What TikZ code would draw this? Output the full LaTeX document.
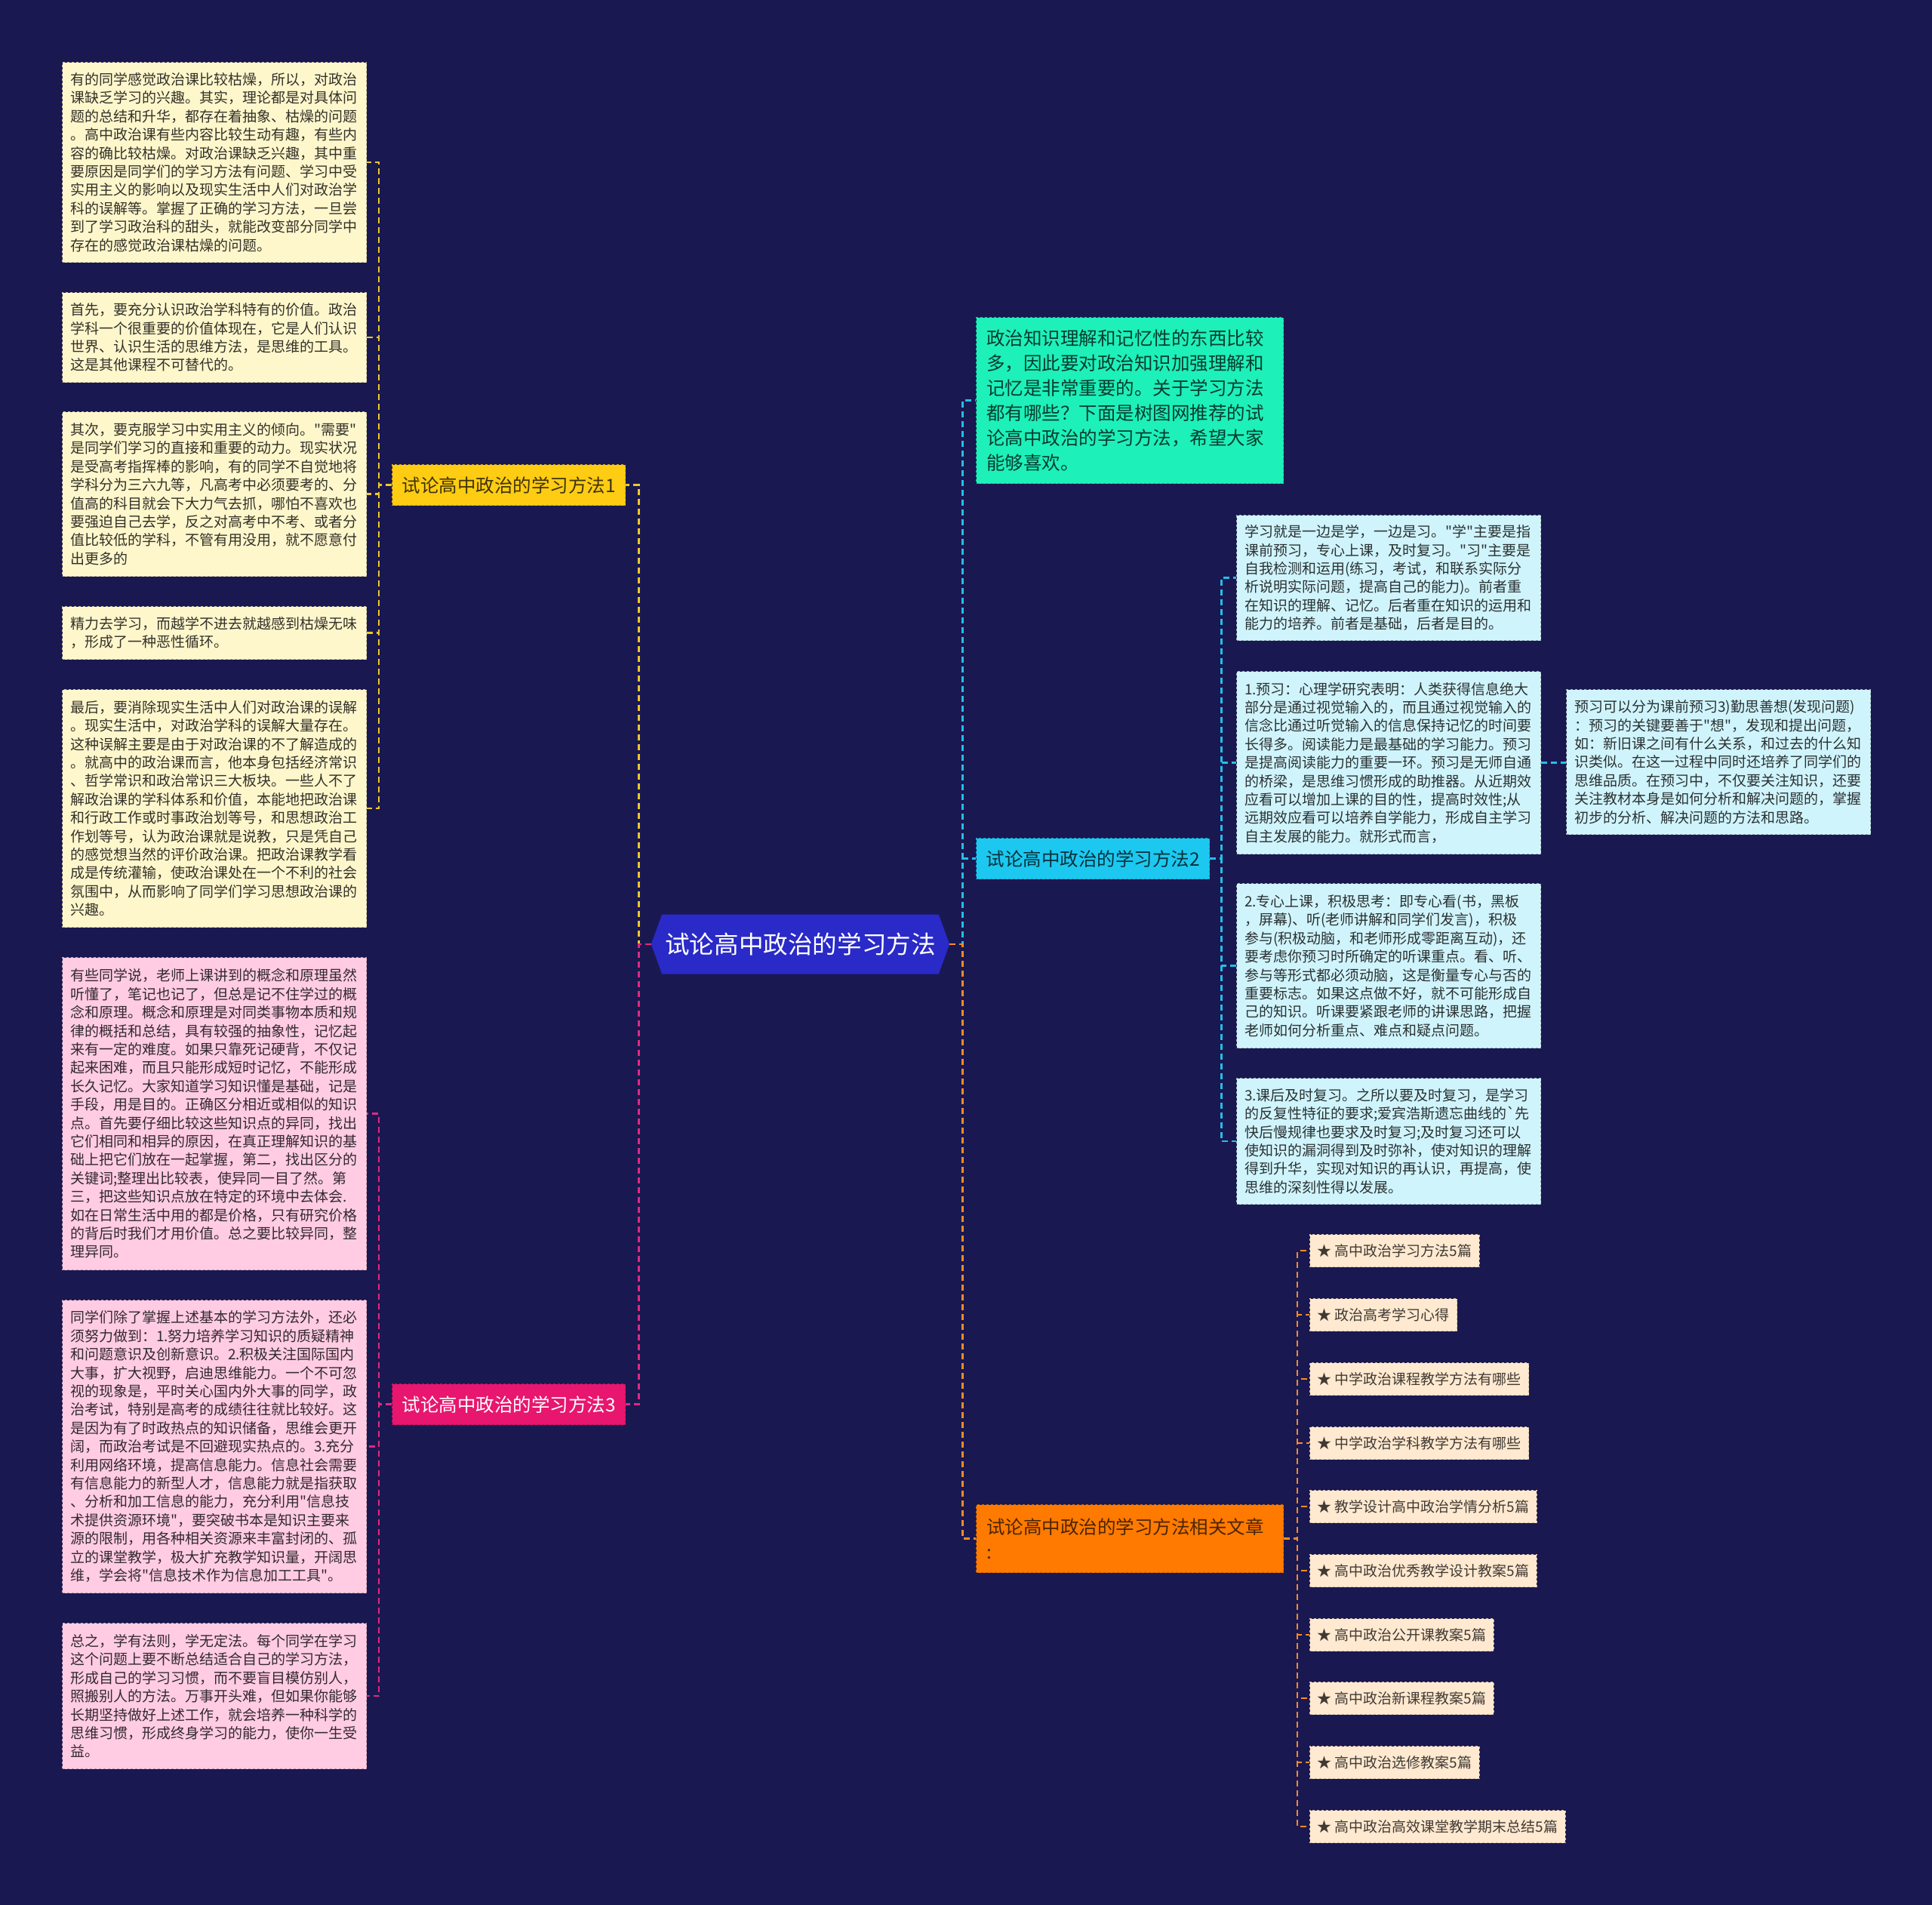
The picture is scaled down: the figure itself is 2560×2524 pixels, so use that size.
\documentclass[tikz,border=0pt]{standalone}
\usepackage{fontspec}
\setmainfont{Noto Sans CJK SC}[Ligatures=TeXOff]
\usetikzlibrary{shapes.symbols}

\definecolor{navy}{RGB}{26,24,80}
\definecolor{hubblue}{RGB}{42,42,200}
\definecolor{ybranch}{RGB}{255,204,20}
\definecolor{pbranch}{RGB}{232,22,110}
\definecolor{cbranch}{RGB}{28,200,240}
\definecolor{obranch}{RGB}{255,122,0}
\definecolor{introfill}{RGB}{30,240,186}
\definecolor{yfill}{RGB}{255,247,204}
\definecolor{pfill}{RGB}{255,204,228}
\definecolor{cfill}{RGB}{208,244,252}
\definecolor{ifill}{RGB}{255,233,208}
\definecolor{ylinecol}{RGB}{238,200,40}
\definecolor{plinecol}{RGB}{226,40,128}
\definecolor{clinecol}{RGB}{36,190,235}
\definecolor{olinecol}{RGB}{255,138,36}

\begin{document}
\begin{tikzpicture}[x=1pt, y=-1pt,
    leaf/.style = {draw, dashed, line width=1.2pt, anchor=north west, align=left, text width=382pt, inner xsep=10.5pt, inner ysep=0pt, font=\fontsize{19}{24.4}\selectfont},
    leafy/.style = {leaf, fill=yfill, draw=yfill!75!black, text=black!80!yfill},
    leafp/.style = {leaf, fill=pfill, draw=pfill!75!black, text=black!80!pfill},
    leafc/.style = {leaf, fill=cfill, draw=cfill!72!black, text=black!80!cfill},
    branch/.style = {draw, dashed, line width=1.2pt, anchor=north west, minimum height=54, inner xsep=13pt, font=\fontsize{24.5}{33}\selectfont},
    big/.style = {branch, align=left, text width=380pt, inner xsep=13.5pt, inner ysep=0pt},
    art/.style = {draw=ifill!80!black, dashed, line width=1.2pt, fill=ifill, text=black!75!ifill, anchor=west, minimum height=43, inner xsep=10pt, font=\fontsize{19}{24}\selectfont},
    link/.style = {dashed, line width=2.4pt, dash pattern=on 8pt off 5pt}]

\fill[navy] (0,0) rectangle (2560,2524);

\node[shape=signal, signal to=east and west, signal pointer angle=140, fill=hubblue, text=white, minimum width=395, minimum height=79, inner xsep=4pt, font=\fontsize{32.6}{40}\selectfont] (hub) at (1060.5,1251) {试论高中政治的学习方法};

\node[branch, fill=ybranch, draw=ybranch!80!black, text=black!75!ybranch] (b1) at (519,615) {试论高中政治的学习方法1};
\node[branch, fill=pbranch, draw=pbranch!80!black, text=white] (b3) at (519,1833) {试论高中政治的学习方法3};
\node[branch, fill=cbranch, draw=cbranch!80!black, text=black!75!cbranch] (b2) at (1293,1110) {试论高中政治的学习方法2};
\node[big, fill=obranch, draw=obranch!80!black, text=black!70!obranch, minimum height=90] (b4) at (1293,1993) {试论高中政治的学习方法相关文章\\:};
\node[big, fill=introfill, draw=introfill!80!black, text=black!75!introfill, minimum height=220] (intro) at (1293,420) {政治知识理解和记忆性的东西比较\\多，因此要对政治知识加强理解和\\记忆是非常重要的。关于学习方法\\都有哪些？下面是树图网推荐的试\\论高中政治的学习方法，希望大家\\能够喜欢。};

\node[leafy, minimum height=265] (y1) at (82,82) {有的同学感觉政治课比较枯燥，所以，对政治\\课缺乏学习的兴趣。其实，理论都是对具体问\\题的总结和升华，都存在着抽象、枯燥的问题\\。高中政治课有些内容比较生动有趣，有些内\\容的确比较枯燥。对政治课缺乏兴趣，其中重\\要原因是同学们的学习方法有问题、学习中受\\实用主义的影响以及现实生活中人们对政治学\\科的误解等。掌握了正确的学习方法，一旦尝\\到了学习政治科的甜头，就能改变部分同学中\\存在的感觉政治课枯燥的问题。};
\node[leafy, minimum height=119] (y2) at (82,387) {首先，要充分认识政治学科特有的价值。政治\\学科一个很重要的价值体现在，它是人们认识\\世界、认识生活的思维方法，是思维的工具。\\这是其他课程不可替代的。};
\node[leafy, minimum height=218] (y3) at (82,545) {其次，要克服学习中实用主义的倾向。"需要"\\是同学们学习的直接和重要的动力。现实状况\\是受高考指挥棒的影响，有的同学不自觉地将\\学科分为三六九等，凡高考中必须要考的、分\\值高的科目就会下大力气去抓，哪怕不喜欢也\\要强迫自己去学，反之对高考中不考、或者分\\值比较低的学科，不管有用没用，就不愿意付\\出更多的};
\node[leafy, minimum height=70] (y4) at (82,803) {精力去学习，而越学不进去就越感到枯燥无味\\，形成了一种恶性循环。};
\node[leafy, minimum height=315] (y5) at (82,913) {最后，要消除现实生活中人们对政治课的误解\\。现实生活中，对政治学科的误解大量存在。\\这种误解主要是由于对政治课的不了解造成的\\。就高中的政治课而言，他本身包括经济常识\\、哲学常识和政治常识三大板块。一些人不了\\解政治课的学科体系和价值，本能地把政治课\\和行政工作或时事政治划等号，和思想政治工\\作划等号，认为政治课就是说教，只是凭自己\\的感觉想当然的评价政治课。把政治课教学看\\成是传统灌输，使政治课处在一个不利的社会\\氛围中，从而影响了同学们学习思想政治课的\\兴趣。};

\node[leafp, minimum height=414] (p1) at (82,1268) {有些同学说，老师上课讲到的概念和原理虽然\\听懂了，笔记也记了，但总是记不住学过的概\\念和原理。概念和原理是对同类事物本质和规\\律的概括和总结，具有较强的抽象性，记忆起\\来有一定的难度。如果只靠死记硬背，不仅记\\起来困难，而且只能形成短时记忆，不能形成\\长久记忆。大家知道学习知识懂是基础，记是\\手段，用是目的。正确区分相近或相似的知识\\点。首先要仔细比较这些知识点的异同，找出\\它们相同和相异的原因，在真正理解知识的基\\础上把它们放在一起掌握，第二，找出区分的\\关键词;整理出比较表，使异同一目了然。第\\三，把这些知识点放在特定的环境中去体会.\\如在日常生活中用的都是价格，只有研究价格\\的背后时我们才用价值。总之要比较异同，整\\理异同。};
\node[leafp, minimum height=388] (p2) at (82,1722) {同学们除了掌握上述基本的学习方法外，还必\\须努力做到：1.努力培养学习知识的质疑精神\\和问题意识及创新意识。2.积极关注国际国内\\大事，扩大视野，启迪思维能力。一个不可忽\\视的现象是，平时关心国内外大事的同学，政\\治考试，特别是高考的成绩往往就比较好。这\\是因为有了时政热点的知识储备，思维会更开\\阔，而政治考试是不回避现实热点的。3.充分\\利用网络环境，提高信息能力。信息社会需要\\有信息能力的新型人才，信息能力就是指获取\\、分析和加工信息的能力，充分利用"信息技\\术提供资源环境"，要突破书本是知识主要来\\源的限制，用各种相关资源来丰富封闭的、孤\\立的课堂教学，极大扩充教学知识量，开阔思\\维，学会将"信息技术作为信息加工工具"。};
\node[leafp, minimum height=193] (p3) at (82,2150) {总之，学有法则，学无定法。每个同学在学习\\这个问题上要不断总结适合自己的学习方法，\\形成自己的学习习惯，而不要盲目模仿别人，\\照搬别人的方法。万事开头难，但如果你能够\\长期坚持做好上述工作，就会培养一种科学的\\思维习惯，形成终身学习的能力，使你一生受\\益。};

\node[leafc, minimum height=166] (r1) at (1638,682) {学习就是一边是学，一边是习。"学"主要是指\\课前预习，专心上课，及时复习。"习"主要是\\自我检测和运用(练习，考试，和联系实际分\\析说明实际问题，提高自己的能力)。前者重\\在知识的理解、记忆。后者重在知识的运用和\\能力的培养。前者是基础，后者是目的。};
\node[leafc, minimum height=242] (r2) at (1638,889) {1.预习：心理学研究表明：人类获得信息绝大\\部分是通过视觉输入的，而且通过视觉输入的\\信念比通过听觉输入的信息保持记忆的时间要\\长得多。阅读能力是最基础的学习能力。预习\\是提高阅读能力的重要一环。预习是无师自通\\的桥梁，是思维习惯形成的助推器。从近期效\\应看可以增加上课的目的性，提高时效性;从\\远期效应看可以培养自学能力，形成自主学习\\自主发展的能力。就形式而言，};
\node[leafc, minimum height=192] (r2b) at (2075,913) {预习可以分为课前预习3)勤思善想(发现问题)\\：预习的关键要善于"想"，发现和提出问题，\\如：新旧课之间有什么关系，和过去的什么知\\识类似。在这一过程中同时还培养了同学们的\\思维品质。在预习中，不仅要关注知识，还要\\关注教材本身是如何分析和解决问题的，掌握\\初步的分析、解决问题的方法和思路。};
\node[leafc, minimum height=218] (r3) at (1638,1170) {2.专心上课，积极思考：即专心看(书，黑板\\，屏幕)、听(老师讲解和同学们发言)，积极\\参与(积极动脑，和老师形成零距离互动)，还\\要考虑你预习时所确定的听课重点。看、听、\\参与等形式都必须动脑，这是衡量专心与否的\\重要标志。如果这点做不好，就不可能形成自\\己的知识。听课要紧跟老师的讲课思路，把握\\老师如何分析重点、难点和疑点问题。};
\node[leafc, minimum height=167] (r4) at (1638,1428) {3.课后及时复习。之所以要及时复习，是学习\\的反复性特征的要求;爱宾浩斯遗忘曲线的\textasciigrave 先\\快后慢规律也要求及时复习;及时复习还可以\\使知识的漏洞得到及时弥补，使对知识的理解\\得到升华，实现对知识的再认识，再提高，使\\思维的深刻性得以发展。};

\node[art] (a1) at (1735,1657) {★ 高中政治学习方法5篇};
\node[art] (a2) at (1735,1742) {★ 政治高考学习心得};
\node[art] (a3) at (1735,1827) {★ 中学政治课程教学方法有哪些};
\node[art] (a4) at (1735,1912) {★ 中学政治学科教学方法有哪些};
\node[art] (a5) at (1735,1996) {★ 教学设计高中政治学情分析5篇};
\node[art] (a6) at (1735,2081) {★ 高中政治优秀教学设计教案5篇};
\node[art] (a7) at (1735,2166) {★ 高中政治公开课教案5篇};
\node[art] (a8) at (1735,2250) {★ 高中政治新课程教案5篇};
\node[art] (a9) at (1735,2335) {★ 高中政治选修教案5篇};
\node[art] (a10) at (1735,2420) {★ 高中政治高效课堂教学期末总结5篇};

\draw[link, ylinecol] (hub.west) -- ++(-16,0) |- (b1.east);
\draw[link, plinecol] (hub.west) -- ++(-16,0) |- (b3.east);
\draw[link, clinecol] (hub.east) -- ++(17,0) |- (intro.west);
\draw[link, clinecol] (hub.east) -- ++(17,0) |- (b2.west);
\draw[link, olinecol] (hub.east) -- ++(17,0) |- (b4.west);

\draw[link, ylinecol] (b1.west) -- ++(-17,0) |- (y1.east);
\draw[link, ylinecol] (b1.west) -- ++(-17,0) |- (y2.east);
\draw[link, ylinecol] (b1.west) -- ++(-17,0) |- (y3.east);
\draw[link, ylinecol] (b1.west) -- ++(-17,0) |- (y4.east);
\draw[link, ylinecol] (b1.west) -- ++(-17,0) |- (y5.east);

\draw[link, plinecol] (b3.west) -- ++(-17,0) |- (p1.east);
\draw[link, plinecol] (b3.west) -- ++(-17,0) |- (p2.east);
\draw[link, plinecol] (b3.west) -- ++(-17,0) |- (p3.east);

\draw[link, clinecol] (b2.east) -- ++(15,0) |- (r1.west);
\draw[link, clinecol] (b2.east) -- ++(15,0) |- (r2.west);
\draw[link, clinecol] (b2.east) -- ++(15,0) |- (r3.west);
\draw[link, clinecol] (b2.east) -- ++(15,0) |- (r4.west);
\draw[link, clinecol] (r2.east) -- (r2.east -| r2b.west);

\draw[link, olinecol] (b4.east) -- ++(18,0) |- (a1.west);
\draw[link, olinecol] (b4.east) -- ++(18,0) |- (a2.west);
\draw[link, olinecol] (b4.east) -- ++(18,0) |- (a3.west);
\draw[link, olinecol] (b4.east) -- ++(18,0) |- (a4.west);
\draw[link, olinecol] (b4.east) -- ++(18,0) |- (a5.west);
\draw[link, olinecol] (b4.east) -- ++(18,0) |- (a6.west);
\draw[link, olinecol] (b4.east) -- ++(18,0) |- (a7.west);
\draw[link, olinecol] (b4.east) -- ++(18,0) |- (a8.west);
\draw[link, olinecol] (b4.east) -- ++(18,0) |- (a9.west);
\draw[link, olinecol] (b4.east) -- ++(18,0) |- (a10.west);
\end{tikzpicture}
\end{document}
